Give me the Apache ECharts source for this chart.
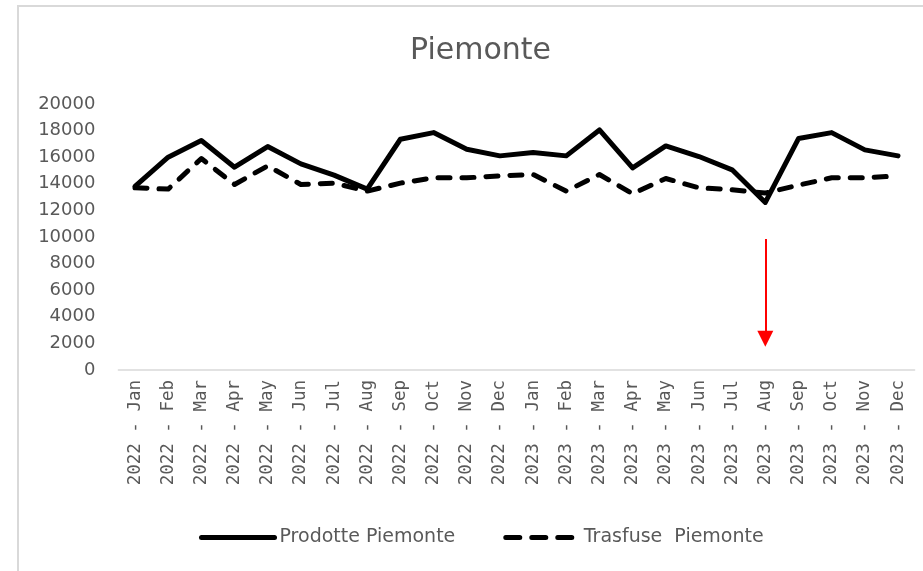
<!DOCTYPE html>
<html>
<head>
<meta charset="utf-8">
<script src="https://cdn.jsdelivr.net/npm/echarts@6/dist/echarts.min.js"></script>
<style>
html,body{margin:0;padding:0;background:#fff;}
#chart{width:923px;height:571px;}
</style>
</head>
<body>
<div id="chart"></div>
<script>
var categories = ["2022 - Jan","2022 - Feb","2022 - Mar","2022 - Apr","2022 - May","2022 - Jun","2022 - Jul","2022 - Aug","2022 - Sep","2022 - Oct","2022 - Nov","2022 - Dec",
  "2023 - Jan","2023 - Feb","2023 - Mar","2023 - Apr","2023 - May","2023 - Jun","2023 - Jul","2023 - Aug","2023 - Sep","2023 - Oct","2023 - Nov","2023 - Dec"];
var prodotte = [13800,16000,17250,15250,16800,15500,14650,13600,17350,17850,16600,16100,16350,16100,18050,15200,16850,16050,15050,12600,17400,17850,16550,16100];
var trasfuse = [13700,13600,15900,13950,15350,13950,14050,13450,14050,14450,14450,14600,14700,13450,14700,13250,14400,13700,13550,13300,13900,14450,14450,14600];
var seriesNames = ["Prodotte Piemonte","Trasfuse  Piemonte"];
var titleText = "Piemonte";
var arrowCategory = "2023 - Aug";
var arrowFrom = 9850;
var arrowTo = 2350;

var chart = echarts.init(document.getElementById('chart'), null, {renderer:'canvas'});
var textColor = '#595959';
chart.setOption({
  animation:false,
  backgroundColor:'#ffffff',
  graphic:[{
    type:'polyline', silent:true,
    shape:{points:[[18,580],[18,6],[930,6]]},
    style:{stroke:'#d9d9d9', lineWidth:2, fill:null}
  }],
  title:{
    text:titleText, left:410, top:36, padding:0,
    textStyle:{fontFamily:'DejaVu Sans', fontSize:30, fontWeight:'normal', color:textColor}
  },
  legend:{
    left:199, top:528, padding:0, itemWidth:73, itemHeight:14, itemGap:48,
    itemStyle:{opacity:0},
    lineStyle:{width:5, cap:'round'},
    textStyle:{fontFamily:'DejaVu Sans', fontSize:19, color:textColor},
    data:[
      {name:seriesNames[0]},
      {name:seriesNames[1], lineStyle:{width:5, cap:'round', type:[14,12]}}
    ]
  },
  grid:{left:118.4, right:8.4, top:104, bottom:201, containLabel:false},
  xAxis:{
    type:'category', data:categories, boundaryGap:true,
    axisLine:{show:true, lineStyle:{color:'#d9d9d9', width:1.5}},
    axisTick:{show:false},
    axisLabel:{rotate:90, interval:0, margin:10, fontFamily:'DejaVu Sans Mono', fontSize:17.5, color:textColor}
  },
  yAxis:{
    type:'value', min:0, max:20000, interval:2000,
    axisLine:{show:false}, axisTick:{show:false},
    splitLine:{show:false},
    axisLabel:{margin:23, fontFamily:'DejaVu Sans', fontSize:18, color:textColor,
      formatter:function(v){return String(v);}}
  },
  series:[{
    name:seriesNames[0], type:'line', data:prodotte, symbol:'none',
    lineStyle:{color:'#000', width:5, cap:'round', join:'round'},
    itemStyle:{color:'#000'},
    markLine:{
      silent:true, symbol:['none','triangle'], symbolSize:16,
      lineStyle:{color:'#ff0000', width:2, type:'solid'},
      itemStyle:{color:'#ff0000'},
      label:{show:false},
      data:[[{coord:[arrowCategory, arrowFrom]},{coord:[arrowCategory, arrowTo]}]]
    }
  },{
    name:seriesNames[1], type:'line', data:trasfuse, symbol:'none',
    lineStyle:{color:'#000', width:5, type:[12,12], cap:'round', join:'round'},
    itemStyle:{color:'#000'}
  }]
});
</script>
</body>
</html>
